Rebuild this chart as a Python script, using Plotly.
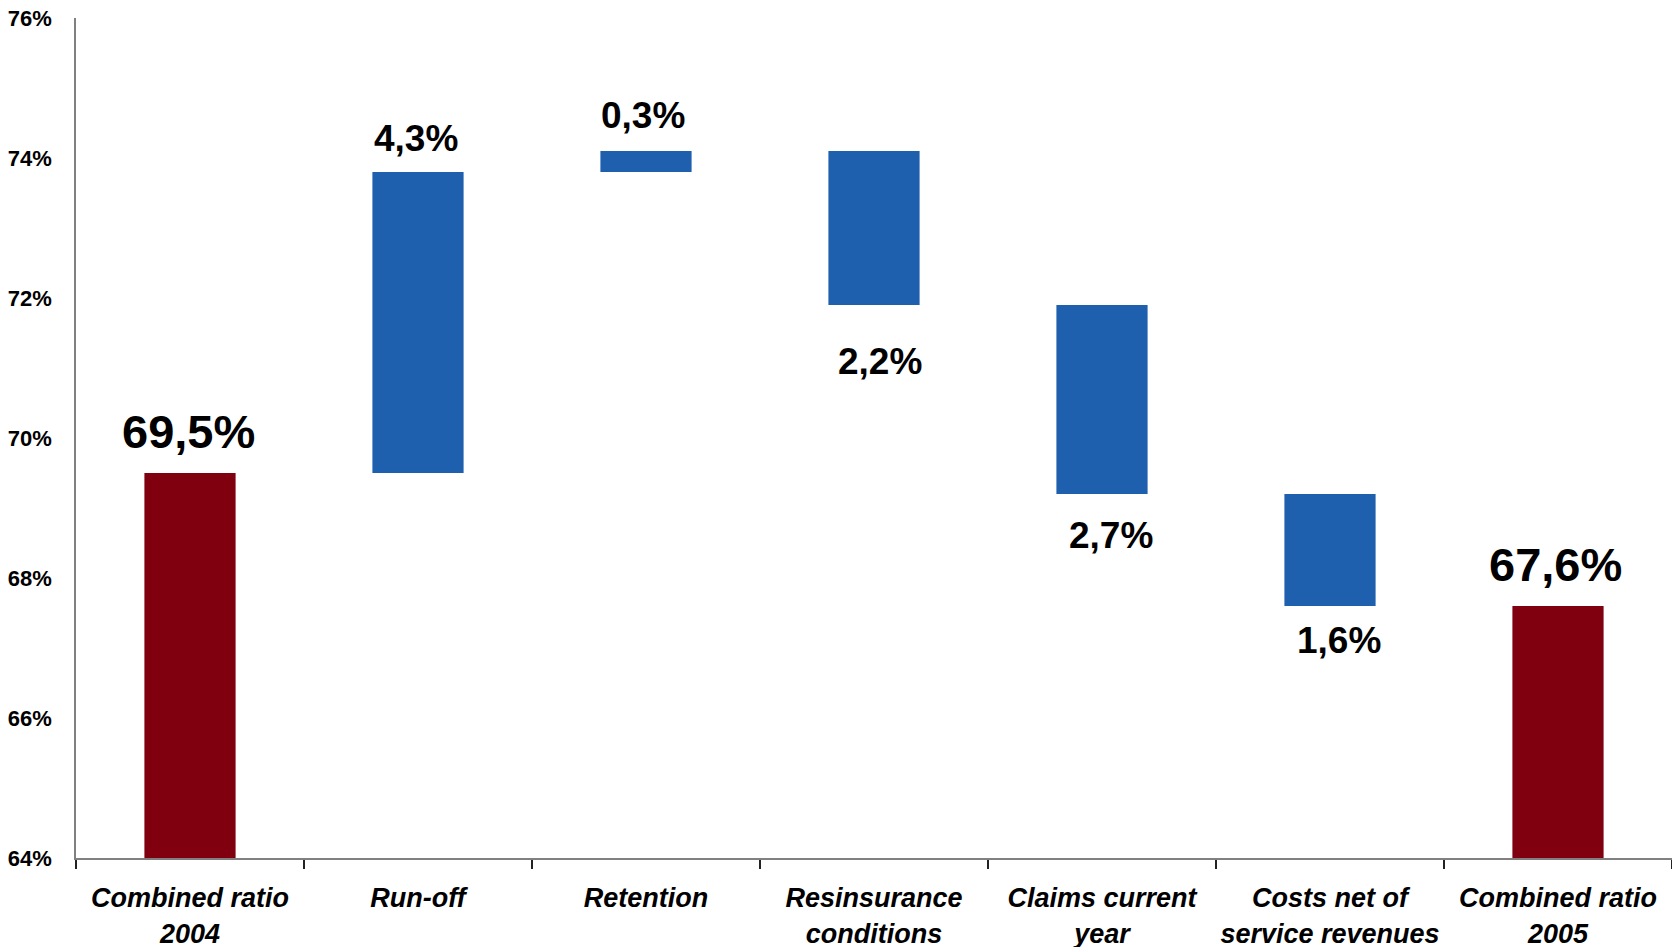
import plotly.graph_objects as go

# ---- data ----
categories = ["Combined ratio<br>2004", "Run-off", "Retention", "Resinsurance<br>conditions",
              "Claims current<br>year", "Costs net of<br>service revenues", "Combined ratio<br>2005"]
measures = ["absolute", "relative", "relative", "relative", "relative", "relative", "total"]
values = [69.5, 4.3, 0.3, -2.2, -2.7, -1.6, 0]
y_ticks = [64, 66, 68, 70, 72, 74, 76]
y_tick_labels = ["64%", "66%", "68%", "70%", "72%", "74%", "76%"]

# ---- style ----
BLUE = "#1F60AE"
RED = "#800010"
FONT = "Liberation Sans, Arial, sans-serif"
label_gap_px = [26, 21, 23, 42, 27, 20, 26]   # visual gap between bar end and label
label_xshift_px = [-2, -2, -3, 6, 9, 9, -3]

fig = go.Figure(go.Waterfall(
    x=categories,
    y=values,
    measure=measures,
    width=0.4,
    connector=dict(visible=False),
    increasing=dict(marker=dict(color=BLUE, line=dict(width=0))),
    decreasing=dict(marker=dict(color=BLUE, line=dict(width=0))),
    totals=dict(marker=dict(color=RED, line=dict(width=0))),
    hoverinfo="skip",
    showlegend=False,
))

# labels derived from data
annotations = []
running = 0.0
for i, (cat, m, v) in enumerate(zip(categories, measures, values)):
    if m == "absolute":
        running = v
        shown, end, up = v, v, True
    elif m == "total":
        shown, end, up = running, running, True
    else:
        running += v
        shown, end, up = v, running, v >= 0
    txt = f"{abs(shown):.1f}".replace(".", ",") + "%"
    big = m in ("absolute", "total")
    fs = 47 if big else 37
    if up:
        annotations.append(dict(x=cat, y=end, xref="x", yref="y", text=f"<b>{txt}</b>",
                                showarrow=False, yanchor="bottom", xshift=label_xshift_px[i],
                                yshift=label_gap_px[i] - int(round(fs * 0.27)),
                                font=dict(size=fs, color="black", family=FONT)))
    else:
        annotations.append(dict(x=cat, y=end, xref="x", yref="y", text=f"<b>{txt}</b>",
                                showarrow=False, yanchor="top", xshift=label_xshift_px[i],
                                yshift=-(label_gap_px[i] - int(round(fs * 0.22))),
                                font=dict(size=fs, color="black", family=FONT)))

fig.update_layout(
    width=1672, height=947,
    margin=dict(l=76, r=0, t=18, b=89),
    paper_bgcolor="white", plot_bgcolor="white",
    annotations=annotations,
    font=dict(family=FONT, color="black"),
)
fig.update_xaxes(
    showline=True, linecolor="#808080", linewidth=2,
    ticks="outside", tickson="boundaries", ticklen=9, tickcolor="#222", tickwidth=1.5,
    tickfont=dict(size=27, family=FONT, weight="bold", style="italic", color="black"),
    tickangle=0, automargin=False,
    ticklabelstandoff=15,
    showgrid=False, zeroline=False,
)
fig.update_yaxes(
    range=[64, 76], tickvals=y_ticks, ticktext=y_tick_labels,
    showline=True, linecolor="#808080", linewidth=1.5,
    ticks="", showgrid=False, zeroline=False,
    tickfont=dict(size=22, family=FONT, weight="bold", color="black"),
    ticklabelstandoff=18, ticklabeloverflow="allow", automargin=False,
)

fig.write_html(
    "out.html",
    config={"displayModeBar": False},
    post_script="document.body.style.margin='0';document.body.style.overflow='hidden';",
)
